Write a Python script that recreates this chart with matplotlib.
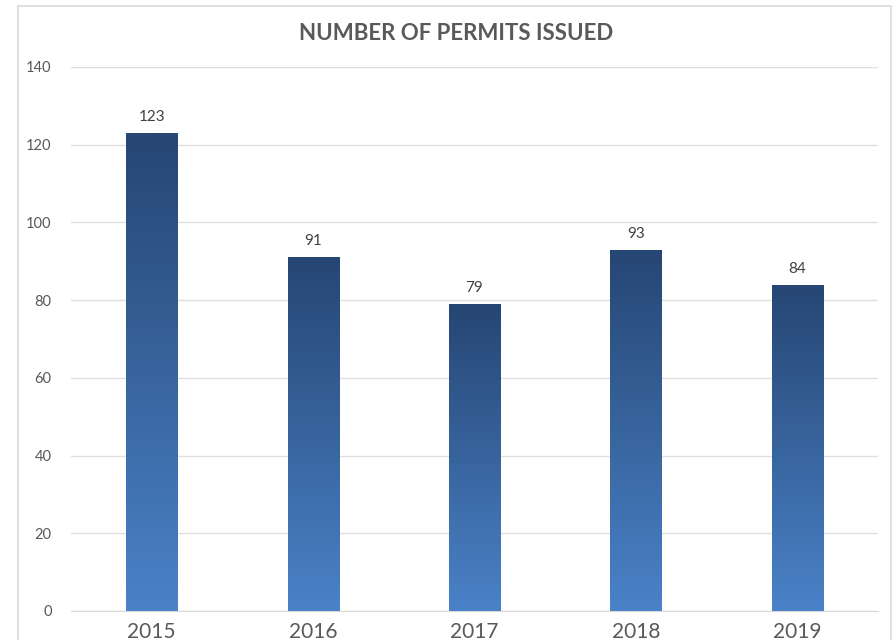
import matplotlib.pyplot as plt
import numpy as np
from matplotlib.colors import LinearSegmentedColormap
from matplotlib.patches import Rectangle

years = ['2015', '2016', '2017', '2018', '2019']
permits = [123, 91, 79, 93, 84]

plt.rcParams['font.family'] = ['Lato', 'DejaVu Sans']

fig = plt.figure(figsize=(8.94, 6.4), dpi=100)
ax = fig.add_axes([71 / 894, 1 - 611 / 640, (878 - 71) / 894, (611 - 67) / 640])

# рамка вокруг диаграммы
fig.patches.append(Rectangle((18 / 894, -0.1), (891 - 18) / 894, 1.1 - 6 / 640,
                             transform=fig.transFigure, fill=False,
                             edgecolor='#d9d9d9', linewidth=1.2))

cmap = LinearSegmentedColormap.from_list('bar', ['#4a82c8', '#264673'])
grad = np.linspace(0, 1, 256).reshape(-1, 1)
width = 0.316

x = np.arange(len(years))
bars = ax.bar(x, permits, width=width, color='none', zorder=3)
for bar, v in zip(bars, permits):
    x0 = bar.get_x()
    im = ax.imshow(grad, cmap=cmap, aspect='auto', origin='lower',
                   extent=[x0, x0 + width, 0, v], zorder=3)
    im.set_clip_path(bar)
    ax.text(bar.get_x() + width / 2, v + 2.3, str(v), ha='center', va='bottom',
            fontsize=11, color='#404040')

ax.set_xlim(-0.5, 4.5)
ax.set_ylim(0, 140)
ax.set_yticks(np.arange(0, 141, 20))
ax.set_xticks(x)
ax.set_xticklabels(years, fontsize=15, color='#595959')
ax.tick_params(axis='y', labelsize=10.5, labelcolor='#595959', length=0, pad=14)
ax.tick_params(axis='x', length=0, pad=8)
ax.grid(axis='y', color='#e0e0e0', linewidth=1, zorder=0)
for s in ['top', 'right', 'left']:
    ax.spines[s].set_visible(False)
ax.spines['bottom'].set_color('#d9d9d9')

fig.text(456 / 894, 1 - 33 / 640, 'NUMBER OF PERMITS ISSUED', ha='center', va='center',
         fontsize=16, fontweight='bold', color='#595959')

fig.savefig('out.png', dpi=100)
